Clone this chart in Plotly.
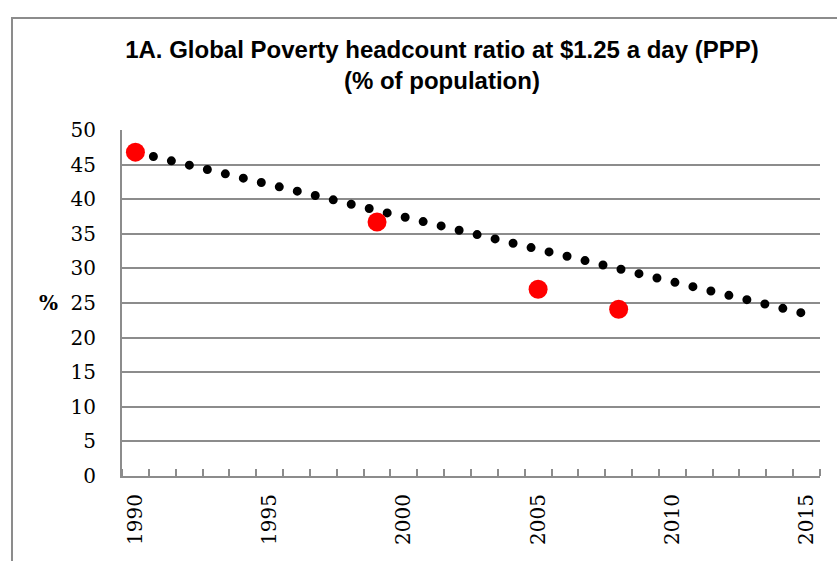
import plotly.graph_objects as go

# observed headcount ratio (% of population)
years_obs = [1990, 1999, 2005, 2008]
poverty_obs = [46.8, 36.7, 27.0, 24.1]

# MDG target path: halve the 1990 rate by 2015
years_target = [1990, 2015]
poverty_target = [46.8, 23.4]

x_ticks = [1990, 1995, 2000, 2005, 2010, 2015]
y_ticks = [0, 5, 10, 15, 20, 25, 30, 35, 40, 45, 50]

serif = "DejaVu Serif"
grey = "#8c8c8c"

fig = go.Figure()
fig.add_trace(go.Scatter(
    x=years_target, y=poverty_target, mode="lines",
    line=dict(color="black", width=9, dash="0px,18.5px"),
    hoverinfo="skip", showlegend=False,
))
fig.add_trace(go.Scatter(
    x=years_obs, y=poverty_obs, mode="markers",
    marker=dict(color="#ff0000", size=19),
    showlegend=False,
))

fig.update_layout(
    width=837, height=561,
    margin=dict(l=122, r=17, t=130, b=85),
    plot_bgcolor="white", paper_bgcolor="white",
    title=dict(
        text="<b>1A. Global Poverty headcount ratio at $1.25 a day (PPP)<br>(% of population)</b>",
        x=0.528, xanchor="center", y=0.897, yanchor="top",
        font=dict(family="Liberation Sans", size=24, color="black"),
    ),
    xaxis=dict(
        range=[1989.5, 2015.5], tickvals=x_ticks, tickangle=-90,
        ticks="", showgrid=False, zeroline=False,
        showline=True, linecolor=grey, linewidth=2,
        tickfont=dict(family=serif, size=20, color="black"),
        ticklabelstandoff=8,
        minor=dict(tick0=1989.5, dtick=1, ticks="inside", ticklen=7,
                   tickcolor=grey, tickwidth=1.5, showgrid=False),
    ),
    yaxis=dict(
        range=[0, 50], tickvals=y_ticks,
        showgrid=True, gridcolor=grey, gridwidth=2, zeroline=False,
        showline=True, linecolor=grey, linewidth=2,
        ticks="outside", ticklen=20, tickcolor="rgba(0,0,0,0)",
        tickfont=dict(family=serif, size=20, color="black"),
    ),
    shapes=[dict(
        type="rect", xref="paper", yref="paper",
        x0=-0.1576, x1=1.1, y0=-0.4, y1=1.3237,
        line=dict(color=grey, width=2), layer="below",
    )],
    annotations=[dict(
        text="<b>%</b>", xref="paper", yref="paper", x=-0.1046, y=0.5,
        xanchor="center", yanchor="middle",
        showarrow=False, font=dict(family=serif, size=20, color="black"),
    )],
)

# round dot caps, no page margin
post = """
document.body.style.margin = '0';
document.querySelectorAll('.scatterlayer .js-line').forEach(function(p){
  p.style.strokeLinecap = 'round';
});
"""

fig.write_html("out.html", post_script=post,
               config={"displayModeBar": False})
